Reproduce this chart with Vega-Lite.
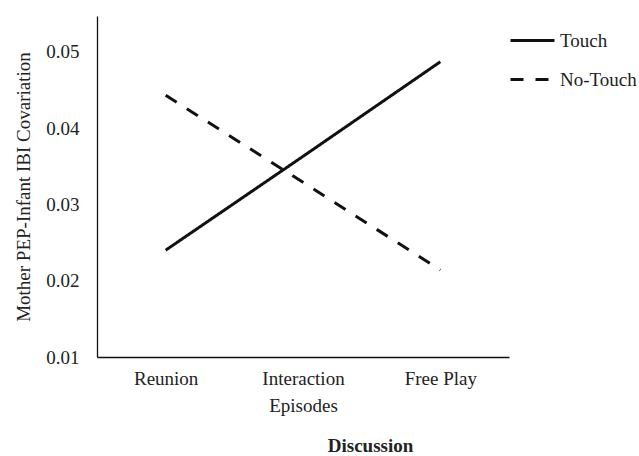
{
  "$schema": "https://vega.github.io/schema/vega-lite/v6.json",
  "autosize": "none",
  "width": 412,
  "height": 341,
  "padding": {"left": 97, "top": 16, "right": 130, "bottom": 99},
  "background": "white",
  "config": {
    "view": {"stroke": null},
    "font": "Liberation Serif",
    "text": {"font": "Liberation Serif"},
    "axis": {"labelFont": "Liberation Serif", "titleFont": "Liberation Serif", "labelColor": "#222", "titleColor": "#222", "domainColor": "#111", "grid": false, "ticks": false},
    "legend": {"labelFont": "Liberation Serif", "titleFont": "Liberation Serif"}
  },
  "data": {
    "values": [
      {"episode": "Reunion", "group": "Touch", "cov": 0.0240},
      {"episode": "Interaction Episodes", "group": "Touch", "cov": 0.0363},
      {"episode": "Free Play", "group": "Touch", "cov": 0.0487},
      {"episode": "Reunion", "group": "No-Touch", "cov": 0.0443},
      {"episode": "Interaction Episodes", "group": "No-Touch", "cov": 0.0329},
      {"episode": "Free Play", "group": "No-Touch", "cov": 0.0214}
    ]
  },
  "mark": {"type": "line", "color": "#111", "strokeWidth": 3},
  "encoding": {
    "x": {
      "field": "episode",
      "type": "nominal",
      "sort": ["Reunion", "Interaction Episodes", "Free Play"],
      "scale": {"type": "point", "padding": 0.5},
      "axis": {
        "title": "Discussion",
        "titleFontWeight": "bold",
        "titleFontSize": 19,
        "titleX": 273,
        "titlePadding": 21,
        "labelFontSize": 19,
        "labelAngle": 0,
        "labelPadding": 12,
        "labelLineHeight": 27,
        "labelExpr": "datum.label == 'Interaction Episodes' ? ['Interaction', 'Episodes'] : datum.label",
        "domainWidth": 1.3
      }
    },
    "y": {
      "field": "cov",
      "type": "quantitative",
      "scale": {"domain": [0.01, 0.0547], "nice": false, "zero": false},
      "axis": {
        "title": "Mother PEP-Infant IBI Covariation",
        "titleFontWeight": "normal",
        "titleFontSize": 19,
        "titlePadding": 12,
        "labelFontSize": 19,
        "labelPadding": 18,
        "values": [0.01, 0.02, 0.03, 0.04, 0.05],
        "format": ".2f",
        "domainWidth": 1.3
      }
    },
    "strokeDash": {
      "field": "group",
      "type": "nominal",
      "scale": {"domain": ["Touch", "No-Touch"], "range": [[1, 0], [13, 12]]},
      "legend": {
        "title": null,
        "orient": "none",
        "legendX": 412,
        "legendY": 1,
        "symbolType": "stroke",
        "symbolSize": 1936,
        "symbolStrokeWidth": 3,
        "symbolStrokeColor": "#111",
        "labelFont": "Liberation Serif",
        "labelFontSize": 19,
        "labelColor": "#222",
        "labelOffset": 4,
        "rowPadding": 5
      }
    }
  }
}
